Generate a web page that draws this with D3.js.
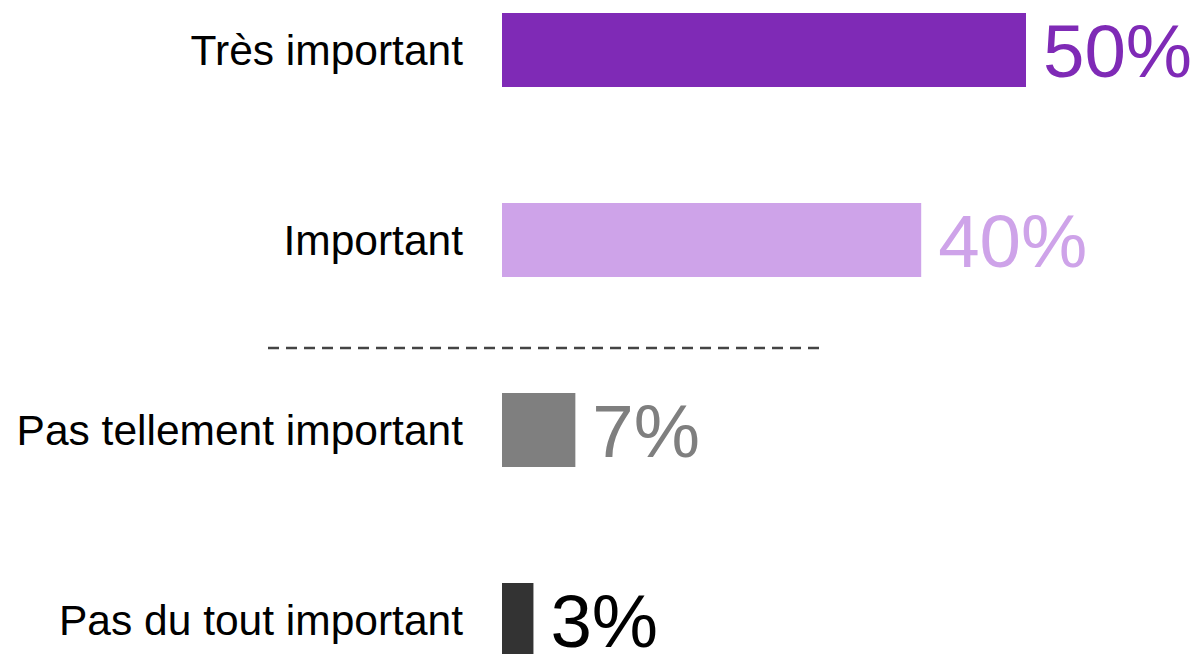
<!DOCTYPE html>
<html>
<head>
<meta charset="utf-8">
<script src="https://cdn.jsdelivr.net/npm/d3@7"></script>
<style>
  html, body { margin: 0; padding: 0; background: #fff; }
  #chart-container { width: 1200px; height: 654px; overflow: hidden; }
  text { font-family: "Liberation Sans", Arial, sans-serif; }
</style>
</head>
<body>
<div id="chart-container"></div>
<script>
const categories = ["Très important", "Important", "Pas tellement important", "Pas du tout important"];
const values = [50, 40, 7, 3];
const barColors = ["#7f2ab6", "#cea3e9", "#7f7f7f", "#333333"];
const labelColors = ["#7f2ab6", "#cea3e9", "#7f7f7f", "#000000"];

const width = 1200;
const height = 654;
const barLeft = 502;

const svg = d3.select("#chart-container")
    .append("svg")
    .attr("width", width)
    .attr("height", height);

const xScale = d3.scaleLinear()
    .domain([0, 50])
    .range([barLeft, 1026]);

const yScale = d3.scaleBand()
    .domain(categories)
    .range([13, 657])
    .paddingInner(1 - 74 / 190)
    .paddingOuter(0);

// bars
svg.selectAll(".bar")
    .data(values)
    .enter()
    .append("rect")
    .attr("class", "bar")
    .attr("x", xScale(0))
    .attr("y", (d, i) => yScale(categories[i]))
    .attr("width", d => xScale(d) - xScale(0))
    .attr("height", yScale.bandwidth())
    .attr("fill", (d, i) => barColors[i]);

// category labels
svg.selectAll(".cat-label")
    .data(categories)
    .enter()
    .append("text")
    .attr("class", "cat-label")
    .attr("x", barLeft - 39)
    .attr("y", d => yScale(d) + yScale.bandwidth() / 2)
    .attr("dy", "0.35em")
    .attr("text-anchor", "end")
    .style("font-size", "42.5px")
    .style("fill", "#000")
    .text(d => d);

// value labels
svg.selectAll(".value-label")
    .data(values)
    .enter()
    .append("text")
    .attr("class", "value-label")
    .attr("x", d => xScale(d) + 17)
    .attr("y", (d, i) => yScale(categories[i]) + yScale.bandwidth() / 2)
    .attr("dy", "0.36em")
    .style("font-size", "74.5px")
    .style("fill", (d, i) => labelColors[i])
    .text(d => d + "%");

// dashed divider between positive and negative answers
const dividerY = yScale(categories[2]) - 45;
svg.append("line")
    .attr("x1", 268)
    .attr("x2", 824)
    .attr("y1", dividerY)
    .attr("y2", dividerY)
    .style("stroke", "#444")
    .style("stroke-width", 2.5)
    .style("stroke-dasharray", "11,7");
</script>
</body>
</html>
